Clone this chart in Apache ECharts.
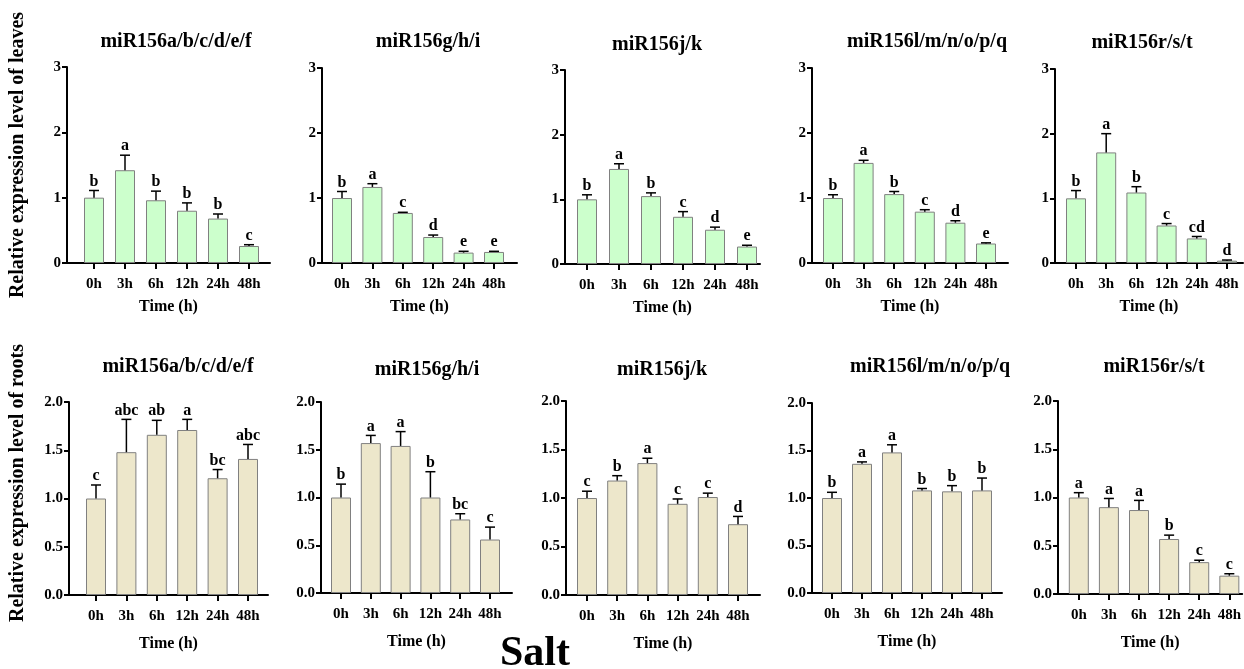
<!DOCTYPE html>
<html>
<head>
<meta charset="utf-8">
<script src="https://cdn.jsdelivr.net/npm/echarts@6/dist/echarts.min.js"></script>
<style>html,body{margin:0;padding:0;background:#fff}#c{width:1244px;height:669px}</style>
</head>
<body>
<div id="c"></div>
<script>
// ---------- DATA ----------
const categories = ['0h', '3h', '6h', '12h', '24h', '48h'];
const genes = ['miR156a/b/c/d/e/f', 'miR156g/h/i', 'miR156j/k', 'miR156l/m/n/o/p/q', 'miR156r/s/t'];

const leavesMean = [
  [1.00, 1.42, 0.96, 0.80, 0.68, 0.26],
  [1.00, 1.17, 0.77, 0.40, 0.16, 0.17],
  [1.00, 1.47, 1.05, 0.73, 0.53, 0.27],
  [1.00, 1.54, 1.06, 0.79, 0.62, 0.30],
  [1.00, 1.71, 1.09, 0.58, 0.38, 0.036]
];
const leavesUpper = [
  [1.11, 1.65, 1.10, 0.92, 0.75, 0.28],
  [1.10, 1.22, 0.78, 0.43, 0.18, 0.18],
  [1.07, 1.55, 1.10, 0.81, 0.57, 0.29],
  [1.05, 1.58, 1.10, 0.82, 0.65, 0.31],
  [1.12, 2.00, 1.18, 0.61, 0.41, 0.046]
];
const leavesLetters = [
  ['b', 'a', 'b', 'b', 'b', 'c'],
  ['b', 'a', 'c', 'd', 'e', 'e'],
  ['b', 'a', 'b', 'c', 'd', 'e'],
  ['b', 'a', 'b', 'c', 'd', 'e'],
  ['b', 'a', 'b', 'c', 'cd', 'd']
];

const rootsMean = [
  [1.00, 1.48, 1.66, 1.71, 1.21, 1.41],
  [1.00, 1.57, 1.54, 1.00, 0.77, 0.56],
  [1.00, 1.18, 1.36, 0.94, 1.01, 0.73],
  [1.00, 1.36, 1.48, 1.08, 1.07, 1.08],
  [1.00, 0.90, 0.87, 0.57, 0.33, 0.19]
];
const rootsUpper = [
  [1.14, 1.82, 1.81, 1.82, 1.30, 1.56],
  [1.14, 1.65, 1.69, 1.27, 0.83, 0.69],
  [1.07, 1.23, 1.41, 0.99, 1.05, 0.81],
  [1.06, 1.38, 1.56, 1.10, 1.13, 1.21],
  [1.05, 0.99, 0.97, 0.61, 0.35, 0.21]
];
const rootsLetters = [
  ['c', 'abc', 'ab', 'a', 'bc', 'abc'],
  ['b', 'a', 'a', 'b', 'bc', 'c'],
  ['c', 'b', 'a', 'c', 'c', 'd'],
  ['b', 'a', 'a', 'b', 'b', 'b'],
  ['a', 'a', 'a', 'b', 'c', 'c']
];

const leavesTicks = [0, 1, 2, 3];
const rootsTicks = [0, 0.5, 1.0, 1.5, 2.0];

const rowTitles = ['Relative expression level of leaves', 'Relative expression level of roots'];
const xAxisTitle = 'Time (h)';
const figureLabel = 'Salt';

// ---------- LAYOUT (pixel geometry of each panel) ----------
// [axisX, firstTickX, lastTickX, axisEndX, topY, bottomY]
const layout = [
  [67, 94, 249, 270, 67, 263],
  [322, 342, 494, 517, 68, 263],
  [565, 587, 747, 760, 70, 264],
  [812, 833, 986, 1008, 68, 263],
  [1055, 1076, 1227, 1243, 69, 263],
  [69, 96, 248, 268, 402, 595],
  [321, 341, 490, 512, 402, 593],
  [566, 587, 738, 760, 401, 595],
  [812, 832, 982, 1002, 403, 593],
  [1058, 1079, 1231, 1244, 401, 594]
];
const titlePos = [
  [176, 42], [428, 42], [657, 45], [927, 42], [1142, 43],
  [178, 367], [427, 370], [662, 370], [930, 367], [1154, 367]
];

const FONT = '"Liberation Serif", "Times New Roman", serif';
const grids = [], xAxes = [], yAxes = [], series = [], graphics = [];

for (let p = 0; p < 10; p++) {
  const row = p < 5 ? 0 : 1;
  const g = p % 5;
  const [ax, t0, t5, ex, ty, by] = layout[p];
  const sp = (t5 - t0) / 5;
  grids.push({ left: ax, top: ty, width: ex - ax, height: by - ty, containLabel: false });
  xAxes.push({
    type: 'value', gridIndex: p,
    min: -(t0 - ax) / sp, max: (ex - t0) / sp,
    splitLine: { show: false },
    axisLine: { show: true, onZero: false, lineStyle: { color: '#000', width: 2 } },
    axisTick: { show: true, customValues: [0, 1, 2, 3, 4, 5], length: 6, lineStyle: { color: '#000', width: 2 } },
    axisLabel: {
      customValues: [0, 1, 2, 3, 4, 5],
      formatter: v => categories[Math.round(v)],
      color: '#000', fontFamily: FONT, fontWeight: 'bold', fontSize: 15, margin: 14
    },
    name: xAxisTitle, nameLocation: 'middle', nameGap: row === 0 ? 36 : 41,
    nameTextStyle: { color: '#000', fontFamily: FONT, fontWeight: 'bold', fontSize: 16 }
  });
  const ticks = row === 0 ? leavesTicks : rootsTicks;
  yAxes.push({
    type: 'value', gridIndex: p,
    min: ticks[0], max: ticks[ticks.length - 1], interval: ticks[1] - ticks[0],
    splitLine: { show: false },
    axisLine: { show: true, onZero: false, lineStyle: { color: '#000', width: 2 } },
    axisTick: { show: true, length: 5, lineStyle: { color: '#000', width: 2 } },
    axisLabel: {
      formatter: v => row === 0 ? String(v) : v.toFixed(1),
      color: '#000', fontFamily: FONT, fontWeight: 'bold', fontSize: 15, margin: 6
    }
  });
  const means = row === 0 ? leavesMean[g] : rootsMean[g];
  const uppers = row === 0 ? leavesUpper[g] : rootsUpper[g];
  const letters = row === 0 ? leavesLetters[g] : rootsLetters[g];
  series.push({
    type: 'bar', xAxisIndex: p, yAxisIndex: p,
    data: means.map((m, i) => [i, m]),
    barWidth: 20,
    itemStyle: { color: row === 0 ? '#CCFFCC' : '#EDE7CB', borderColor: '#808080', borderWidth: 1 },
    z: 2, silent: true
  });
  series.push({
    type: 'custom', xAxisIndex: p, yAxisIndex: p,
    data: means.map((m, i) => [i, m, uppers[i]]),
    z: 3, silent: true,
    renderItem: (params, api) => {
      const i = api.value(0);
      const a = api.coord([i, api.value(1)]);
      const b = api.coord([i, api.value(2)]);
      const cap = 5;
      return {
        type: 'group',
        children: [
          { type: 'line', shape: { x1: a[0], y1: a[1], x2: b[0], y2: b[1] }, style: { stroke: '#000', lineWidth: 1.5 } },
          { type: 'line', shape: { x1: b[0] - cap, y1: b[1], x2: b[0] + cap, y2: b[1] }, style: { stroke: '#000', lineWidth: 1.5 } },
          { type: 'text', x: b[0], y: b[1] - 1, style: { text: letters[params.dataIndex], textAlign: 'center', textVerticalAlign: 'bottom', font: 'bold 16px ' + FONT, fill: '#000' } }
        ]
      };
    }
  });
  graphics.push({
    type: 'text', x: titlePos[p][0], y: titlePos[p][1],
    style: { text: genes[g], textAlign: 'center', textVerticalAlign: 'middle', font: 'bold 20px ' + FONT, fill: '#000' }
  });
}

graphics.push({
  type: 'text', x: 18, y: 155, rotation: Math.PI / 2,
  style: { text: rowTitles[0], textAlign: 'center', textVerticalAlign: 'middle', font: 'bold 20px ' + FONT, fill: '#000' }
});
graphics.push({
  type: 'text', x: 18, y: 483, rotation: Math.PI / 2,
  style: { text: rowTitles[1], textAlign: 'center', textVerticalAlign: 'middle', font: 'bold 20px ' + FONT, fill: '#000' }
});
graphics.push({
  type: 'text', x: 535, y: 654,
  style: { text: figureLabel, textAlign: 'center', textVerticalAlign: 'middle', font: 'bold 42px ' + FONT, fill: '#000' }
});

const chart = echarts.init(document.getElementById('c'), null, { renderer: 'canvas' });
chart.setOption({
  animation: false,
  backgroundColor: '#fff',
  grid: grids, xAxis: xAxes, yAxis: yAxes, series: series,
  graphic: graphics
});
</script>
</body>
</html>
